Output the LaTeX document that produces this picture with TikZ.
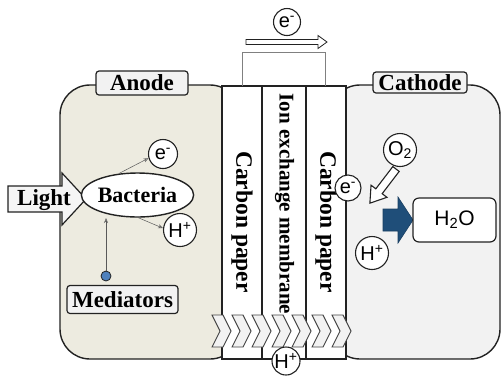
\documentclass[tikz,border=0pt]{standalone}
\usepackage{fontspec}
\setmainfont{Liberation Serif}
\newfontfamily\sansf{Liberation Sans}
\usetikzlibrary{shapes.geometric,arrows.meta}
\definecolor{anodebg}{HTML}{EDEBE0}
\definecolor{cathbg}{HTML}{F2F2F2}
\definecolor{lblbg}{HTML}{F2F2F2}
\definecolor{edge}{HTML}{222222}
\definecolor{navy}{HTML}{1F4E79}
\definecolor{dotblue}{HTML}{4F81BD}
\tikzset{
  chamber/.style={draw=edge, line width=1.4pt, rounded corners=30pt},
  lbl/.style={draw=edge, line width=1.2pt, fill=lblbg, rounded corners=3pt, inner sep=1.5pt, font=\fontsize{23}{24}\selectfont\bfseries},
  ion/.style={circle, draw=edge, line width=1.1pt, fill=white, inner sep=0pt, font=\sansf\fontsize{20}{21}\selectfont},
  thinarrow/.style={-{Stealth[open,length=5pt,width=4pt]}, draw=gray!70!black, line width=0.5pt},
  layer/.style={draw=edge, line width=1.1pt, fill=white},
  chev/.style={draw=edge!85, line width=0.9pt, fill=gray!10},
  vtext/.style={rotate=-90, font=\fontsize{23.5}{24}\selectfont\bfseries, inner sep=0pt}
}
\begin{document}
\begin{tikzpicture}[x=1pt,y=-1pt]
\useasboundingbox (0,0) rectangle (502,376);
% chambers
\path[chamber, fill=anodebg] (60,85) rectangle (240,359);
\path[chamber, fill=cathbg] (330,85) rectangle (500,359);
% separator
\path[layer] (222,86) rectangle (346,359);
\draw[edge, line width=1.1pt] (262,86) -- (262,359);
\draw[edge, line width=1.1pt] (306,86) -- (306,359);
\node[vtext] (cp1) at (242,222) {Carbon paper};
\node[vtext] (cp2) at (326,222) {Carbon paper};
\node[rotate=-90, inner sep=0pt, font=\fontsize{21}{22}\selectfont\bfseries] (mem) at (284.5,204) {Ion exchange membrane};
% wire and electron flow
\coordinate (wl) at (242,86);
\coordinate (wr) at (325,86);
\draw[gray, line width=0.8pt] (wl) -- (242,52) -- (325,52) -- (wr);
\draw[edge, line width=0.8pt, fill=white] (246,39.5) -- (318,39.5) -- (318,35.5) -- (327,42) -- (318,48.5) -- (318,44.5) -- (246,44.5) -- cycle;
\node[ion, minimum size=27pt] (etop) at (287,22) {e\textsuperscript{-}};
% labels
\node[lbl, minimum width=92pt, minimum height=24pt] (anode) at (142,83) {Anode};
\node[lbl, minimum width=94pt, minimum height=21pt, fill=cathbg] (cathode) at (420,82.5) {Cathode};
% light arrow
\draw[edge, line width=1.2pt, fill=gray!8] (8,186) -- (62,186) -- (62,173) -- (86,199) -- (62,225) -- (62,212) -- (8,212) -- cycle;
\node[font=\fontsize{23}{24}\selectfont\bfseries, inner sep=0pt] (light) at (44,200) {Light};
% bacteria
\node[ellipse, draw=edge, line width=1.4pt, fill=white, minimum width=103pt, minimum height=44pt, inner sep=0pt, font=\fontsize{22}{23}\selectfont\bfseries] (bact) at (137.5,195) {Bacteria};
\node[ion, minimum size=29pt] (ea) at (163,154) {e\textsuperscript{-}};
\node[ion, minimum size=33pt] (ha) at (180,230) {H\textsuperscript{+}};
\draw[thinarrow] (bact.131) -- (ea.196);
\draw[thinarrow] (bact.-88) -- (ha.174);
% mediators
\node[lbl, minimum width=111pt, minimum height=28pt] (med) at (122.5,299.5) {Mediators};
\node[circle, draw=edge, line width=0.8pt, fill=dotblue, minimum size=10pt, inner sep=0pt] (dot) at (106,276) {};
\coordinate (medtip) at (106,218);
\draw[thinarrow] (dot) -- (medtip);
% cathode side
\node[ion, minimum size=26pt] (ec) at (348,188) {e\textsuperscript{-}};
\node[ion, minimum size=33pt] (o2) at (400,150) {O\textsubscript{2}};
\begin{scope}[shift={(396,169)}, rotate=232.6]
\draw[edge, line width=1.1pt, fill=white] (0,-4) -- (28,-4) -- (28,-10) -- (43,0) -- (28,10) -- (28,4) -- (0,4) -- cycle;
\end{scope}
\draw[navy!80!black, line width=0.6pt, fill=navy] (383,209) -- (398,209) -- (398,197) -- (413,220) -- (398,243) -- (398,231) -- (383,231) -- cycle;
\node[draw=edge, line width=1.2pt, fill=white, rounded corners=6pt, minimum width=83pt, minimum height=44pt, font=\sansf\fontsize{21}{22}\selectfont] (h2o) at (454.5,220) {H\textsubscript{2}O};
\node[ion, minimum size=33pt] (hc) at (372,253) {H\textsuperscript{+}};
% chevrons
\foreach \i in {0,...,6}{
  \pgfmathsetmacro{\xo}{212+20*\i}
  \path[chev] (\xo,315) -- (\xo+11,315) -- (\xo+19,331) -- (\xo+11,347) -- (\xo,347) -- (\xo+8,331) -- cycle;
}
\node[ion, minimum size=28pt] (hb) at (286,361) {H\textsuperscript{+}};
\end{tikzpicture}
\end{document}
